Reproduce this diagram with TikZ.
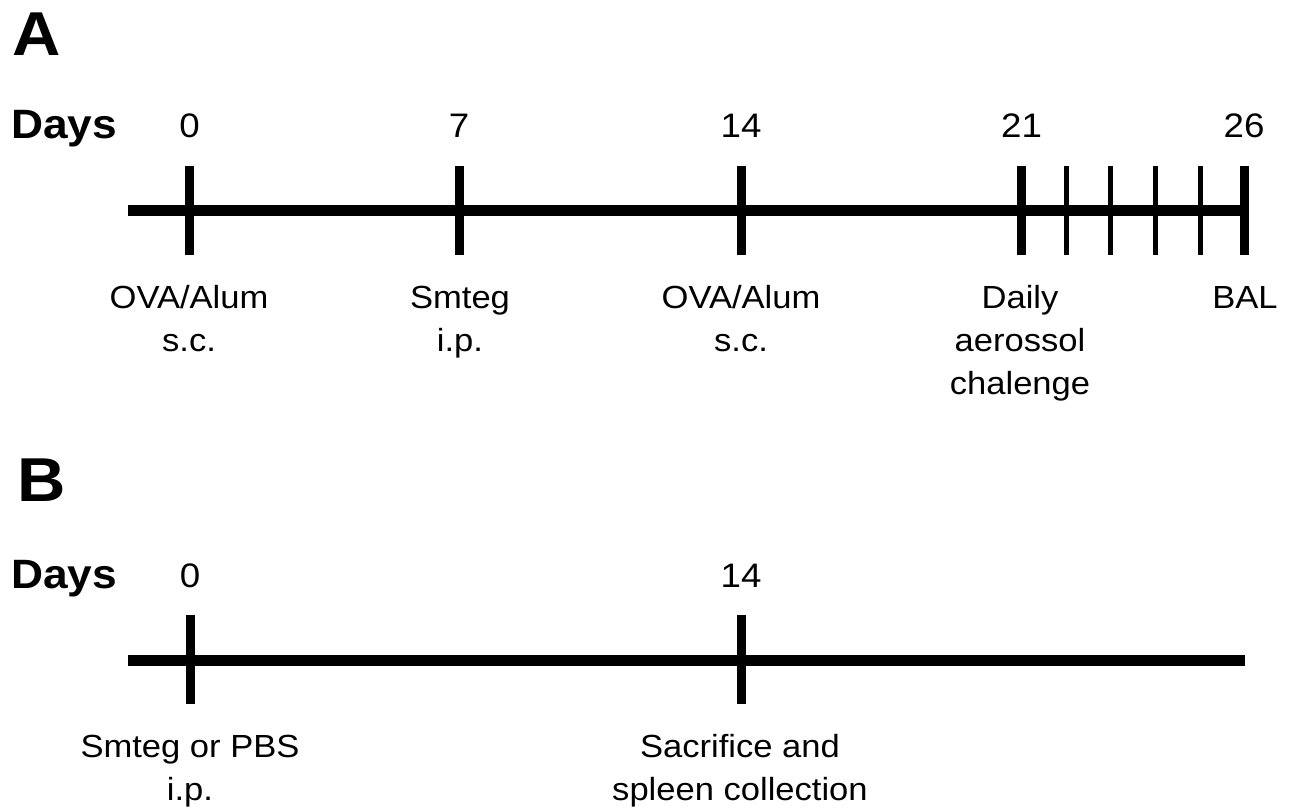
\documentclass[tikz,border=0pt]{standalone}
\usepackage{fontspec}
\setmainfont{Liberation Sans}[FakeStretch=1.08]
\begin{document}
\begin{tikzpicture}[x=1pt,y=-1pt,
  axis/.style={line width=11pt,line cap=butt},
  major/.style={line width=9pt,line cap=butt},
  minor/.style={line width=5pt,line cap=butt},
  panel/.style={inner sep=0pt,anchor=base west,font=\fontsize{62}{62}\selectfont\bfseries},
  dayslbl/.style={inner sep=0pt,anchor=base west,font=\fontsize{41}{41}\selectfont\bfseries},
  num/.style={inner sep=0pt,anchor=base,font=\fontsize{34}{34}\selectfont},
  lbl/.style={inner sep=0pt,anchor=base,align=center,font=\fontsize{32}{43}\selectfont}]
\useasboundingbox (0,0) rectangle (1294,807);
% Panel A
\node[panel] (pA) at (12,55) {A};
\node[dayslbl] (dA) at (11,138) {Days};
\coordinate (a0) at (128,210.5);
\coordinate (a1) at (1244,210.5);
\draw[axis] (a0) -- (a1);
\foreach \n/\x in {t0/189.5,t7/459,t14/741,t21/1021.5,t26/1244}{
  \coordinate (\n top) at (\x,166);
  \coordinate (\n bot) at (\x,255);
  \draw[major] (\n top) -- (\n bot);
}
\foreach \n/\x in {m1/1066,m2/1110.5,m3/1155,m4/1200}{
  \coordinate (\n top) at (\x,166);
  \coordinate (\n bot) at (\x,255);
  \draw[minor] (\n top) -- (\n bot);
}
\node[num] (n0) at (189.5,137) {0};
\node[num] (n7) at (459,137) {7};
\node[num] (n14) at (741,137) {14};
\node[num] (n21) at (1021.5,137) {21};
\node[num] (n26) at (1244,137) {26};
\node[lbl] (l0) at (189,351) {OVA/Alum\\s.c.};
\node[lbl] (l7) at (460,351) {Smteg\\i.p.};
\node[lbl] (l14) at (741,351) {OVA/Alum\\s.c.};
\node[lbl] (l21) at (1020,394) {Daily\\aerossol\\chalenge};
\node[lbl] (l26) at (1245,308) {BAL};
% Panel B
\node[panel] (pB) at (17,501) {B};
\node[dayslbl] (dB) at (11,588) {Days};
\coordinate (b0) at (128,660);
\coordinate (b1) at (1245,660);
\draw[axis] (b0) -- (b1);
\coordinate (u0top) at (190,615);
\coordinate (u0bot) at (190,704);
\coordinate (u14top) at (741,615);
\coordinate (u14bot) at (741,704);
\draw[major] (u0top) -- (u0bot);
\draw[major] (u14top) -- (u14bot);
\node[num] (k0) at (190,587) {0};
\node[num] (k14) at (741,587) {14};
\node[lbl] (s0) at (190,800) {Smteg or PBS\\i.p.};
\node[lbl] (s14) at (740,800) {Sacrifice and\\spleen collection};
\end{tikzpicture}
\end{document}
